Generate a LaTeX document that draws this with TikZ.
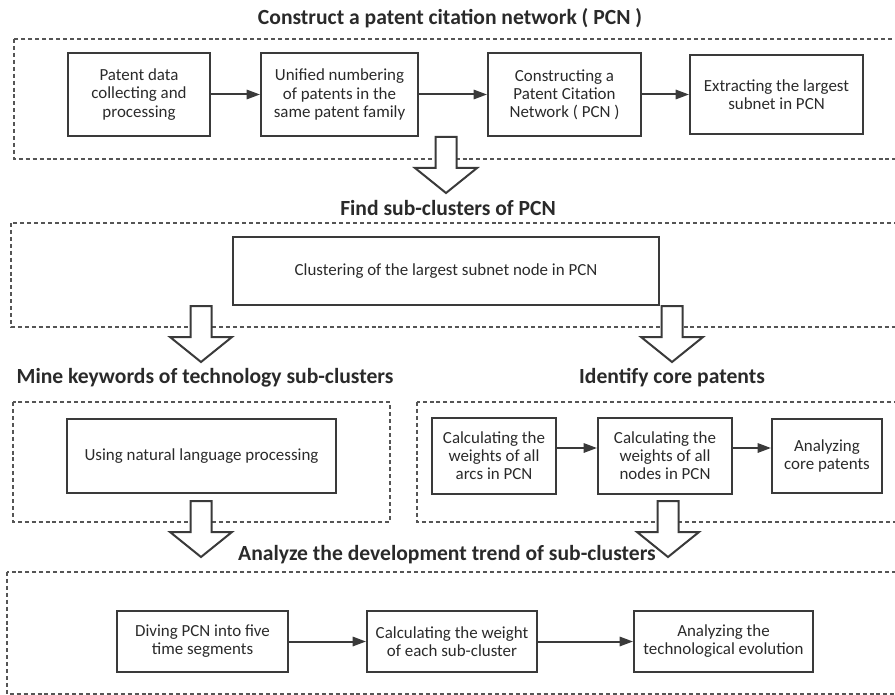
\documentclass[tikz,border=0pt]{standalone}
\usepackage{fontspec}
\setmainfont{Carlito}
\usetikzlibrary{arrows.meta,calc}
\definecolor{boxgray}{HTML}{3A3A3A}
\definecolor{textgray}{HTML}{2A2A2A}
\definecolor{framegray}{HTML}{555555}
\tikzset{
  stepbox/.style={draw=boxgray, line width=1.5pt, align=center, text=textgray, inner sep=2pt, font=\fontsize{12.7}{13.6}\selectfont},
  boxsize/.style 2 args={minimum width=#1*0.75pt, minimum height=#2*0.75pt},
  frame/.style={draw=framegray, line width=1.3pt, dash pattern=on 3pt off 2.2pt},
  title/.style={text=textgray, font=\bfseries\fontsize{16.2}{18}\selectfont},
  flow/.style={draw=boxgray, line width=1.5pt, -{Triangle[length=10pt,width=7pt]}},
  blockarrow/.style={draw=boxgray, line width=1.5pt, fill=white, line join=miter}
}
\newcommand{\downblock}[1]{%
  \draw[blockarrow] ($(#1)+(-10.5,0)$) -- ++(0,31) -- ++(-20.5,0)
    -- ($(#1)+(0,56)$) -- ($(#1)+(31,31)$) -- ++(-20.5,0) -- ++(0,-31) -- cycle;}
\begin{document}
\begin{tikzpicture}[x=0.75pt,y=-0.75pt]
\useasboundingbox (0,0) rectangle (895,695);
\clip (0,0) rectangle (895,695);

\draw[frame] (14,39) rectangle (905,159);
\node[stepbox, boxsize={142}{83}] (p1) at (139,94.5) {Patent data\\collecting and\\processing};
\node[stepbox, boxsize={157}{83}] (p2) at (339.5,94.5) {Unified numbering\\of patents in the\\same patent family};
\node[stepbox, boxsize={153}{83}] (p3) at (564.5,94.5) {Constructing a\\Patent Citation\\Network ( PCN )};
\node[stepbox, boxsize={173}{79}] (p4) at (776.5,94.5) {Extracting the largest\\subnet in PCN};
\draw[flow] (p1) -- (p2);
\draw[flow] (p2) -- (p3);
\draw[flow] (p3) -- (p4);

\draw[frame] (11,223) rectangle (905,327);
\node[stepbox, boxsize={426}{68}] (c1) at (446,271) {Clustering of the largest subnet node in PCN};

\draw[frame] (13,402) rectangle (390,522);
\draw[frame] (417,402) rectangle (905,522);
\node[stepbox, boxsize={269}{74}] (k1) at (201.5,456) {Using natural language processing};
\node[stepbox, boxsize={124}{76}] (w1) at (494,456) {Calculating the\\weights of all\\arcs in PCN};
\node[stepbox, boxsize={134}{76}] (w2) at (665,456) {Calculating the\\weights of all\\nodes in PCN};
\node[stepbox, boxsize={110}{74}] (w3) at (827,456) {Analyzing\\core patents};
\draw[flow] ([yshift=6pt]w1.east) -- ([yshift=6pt]w2.west);
\draw[flow] ([yshift=6pt]w2.east) -- ([yshift=6pt]w3.west);

\draw[frame] (7,572) rectangle (905,694);
\node[stepbox, boxsize={171}{61}] (d1) at (202.5,641.5) {Diving PCN into five\\time segments};
\node[stepbox, boxsize={170}{61}] (d2) at (452,641.5) {Calculating the weight\\of each sub-cluster};
\node[stepbox, boxsize={179}{61}] (d3) at (723.5,641.5) {Analyzing the\\technological evolution};
\draw[flow] (d1) -- (d2);
\draw[flow] (d2) -- (d3);

\coordinate (h1) at (446,0 |- p2.south);
\coordinate (h2) at (201,0 |- c1.south);
\coordinate (h3) at (672,0 |- c1.south);
\coordinate (h4) at (201,501);
\coordinate (h5) at (668,501);
\downblock{h1}
\downblock{h2}
\downblock{h3}
\downblock{h4}
\downblock{h5}

\node[title] (t1) at (450,18) {Construct a patent citation network ( PCN )};
\node[title] (t2) at (448,208) {Find sub-clusters of PCN};
\node[title] (t3) at (205,378) {Mine keywords of technology sub-clusters};
\node[title] (t4) at (672,378) {Identify core patents};
\node[title] (t5) at (447,555) {Analyze the development trend of sub-clusters};
\end{tikzpicture}
\end{document}
